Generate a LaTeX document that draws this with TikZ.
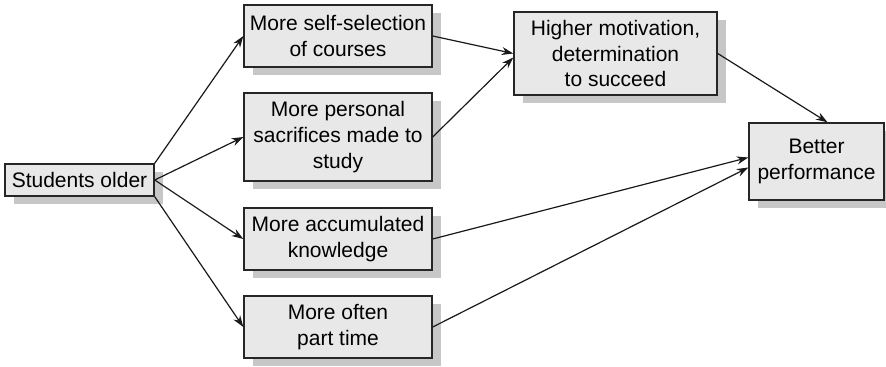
\documentclass[tikz,border=0pt]{standalone}
\usepackage{fontspec}
\setmainfont{Liberation Sans}
\usetikzlibrary{positioning,arrows.meta,shadows}

\tikzset{
  box/.style={draw=black!85, line width=0.7pt, fill=black!9, inner sep=0pt, align=center,
    font=\fontsize{10.5}{12.8}\selectfont,
    drop shadow={shadow xshift=4.5pt, shadow yshift=-4pt, fill=black!22, opacity=1}},
  link/.style={-{Stealth[length=5.8pt,width=4pt]}, line width=0.6pt, black!90}
}

\begin{document}
\begin{tikzpicture}[x=0.5pt,y=-0.5pt]
		\useasboundingbox (0,0) rectangle (886,367);
		\node[box, minimum width=74.5pt, minimum height=16pt] (older) at (79.5,180) {Students older};
		\node[box, minimum width=94pt, minimum height=31pt] (selection) at (338,36) {More self-selection\\of courses};
		\node[box, minimum width=94pt, minimum height=44pt] (sacrifice) at (338,137) {More personal\\sacrifices made to\\study};
		\node[box, minimum width=94pt, minimum height=31pt] (knowledge) at (338,239) {More accumulated\\knowledge};
		\node[box, minimum width=94pt, minimum height=31pt] (parttime) at (338,327) {More often\\part time};
		\node[box, minimum width=101.5pt, minimum height=41.5pt] (motivation) at (615.5,53.5) {Higher motivation,\\determination\\to succeed};
		\node[box, minimum width=67.5pt, minimum height=38.5pt] (performance) at (816.5,161.5) {Better\\performance};
		\draw[link] (older.north east) -- (selection.west);
		\draw[link] (older.east) -- (sacrifice.west);
		\draw[link] (older.east) -- (knowledge.west);
		\draw[link] (older.south east) -- (parttime.west);
		\draw[link] (selection.east) -- (motivation.west);
		\draw[link] (sacrifice.east) -- ([yshift=-2pt]motivation.west);
		\draw[link] (motivation.east) -- ([xshift=5.5pt]performance.north);
		\draw[link] (knowledge.east) -- ([yshift=2pt]performance.west);
		\draw[link] (parttime.east) -- ([yshift=-3pt]performance.west);
\end{tikzpicture}
\end{document}
